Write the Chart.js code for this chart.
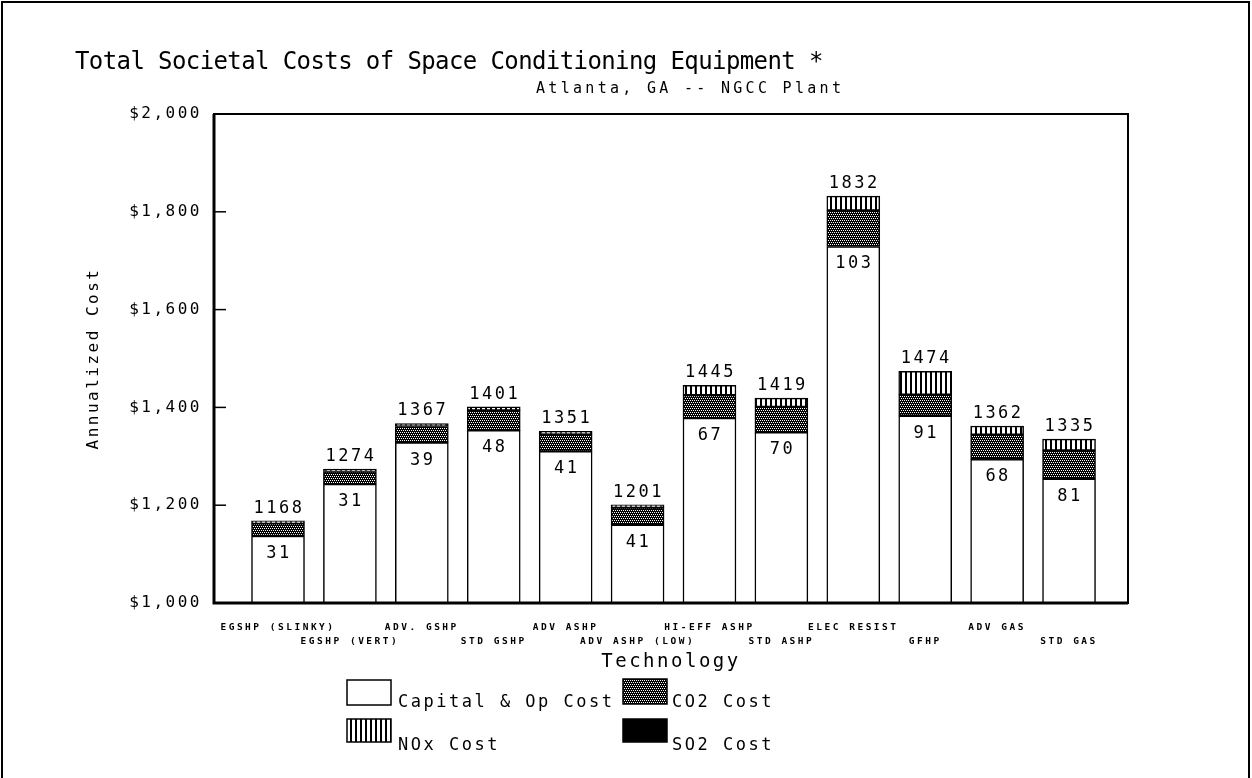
<!DOCTYPE html>
<html><head><meta charset="utf-8">
<script src="https://cdn.jsdelivr.net/npm/chart.js@4.4.1/dist/chart.umd.min.js"></script>
<style>html,body{margin:0;padding:0;background:#fff;}canvas{display:block;}</style>
</head><body>
<canvas id="c" width="1252" height="778"></canvas>
<script>
// ---- data ----
const categories = ['EGSHP (SLINKY)','EGSHP (VERT)','ADV. GSHP','STD GSHP','ADV ASHP','ADV ASHP (LOW)','HI-EFF ASHP','STD ASHP','ELEC RESIST','GFHP','ADV GAS','STD GAS'];
const capitalOpCost = [1137,1243,1328,1353,1310,1160,1378,1349,1729,1383,1294,1254];
const co2Cost       = [26,26,33,41,35,35,47,52,74,43,50,58];
const so2Cost       = [0,0,0,0,0,0,0,0,0,0,0,0];
const noxCost       = [5,5,6,7,6,6,20,18,29,48,18,23];
const totalLabels    = [1168,1274,1367,1401,1351,1201,1445,1419,1832,1474,1362,1335];
const emissionLabels = [31,31,39,48,41,41,67,70,103,91,68,81];
const yTickValues = [1000,1200,1400,1600,1800,2000];
const chartTitle = 'Total Societal Costs of Space Conditioning Equipment *';
const chartSubtitle = 'Atlanta, GA -- NGCC Plant';

const F = "'DejaVu Sans Mono', monospace";
const SP = '2.5px';

function makePattern(w, h, draw){
  const c = document.createElement('canvas'); c.width = w; c.height = h;
  const g = c.getContext('2d'); draw(g);
  return document.getElementById('c').getContext('2d').createPattern(c, 'repeat');
}
const co2Pattern = makePattern(4,4,g=>{
  g.fillStyle='#000'; g.fillRect(0,0,4,4);
  g.fillStyle='#fff'; g.fillRect(0,0,1,1); g.fillRect(2,0,1,1); g.fillRect(1,2,1,1); g.fillRect(3,2,1,1);
});
const noxPattern = makePattern(5,1,g=>{
  g.fillStyle='#fff'; g.fillRect(0,0,5,1);
  g.fillStyle='#000'; g.fillRect(0,0,2,1);
});

function setSpacing(chart){ try { chart.ctx.letterSpacing = SP; } catch(e){} }

const decor = {
  id:'decor',
  beforeUpdate: setSpacing,
  beforeLayout: setSpacing,
  beforeDraw(chart){
    const c = chart.ctx; c.save(); c.fillStyle='#fff'; c.fillRect(0,0,chart.width,chart.height); c.restore();
    setSpacing(chart);
  },
  afterDatasetsDraw(chart){
    const c = chart.ctx, a = chart.chartArea, y = chart.scales.y;
    const meta = chart.getDatasetMeta(0);
    c.save();
    c.letterSpacing = SP;
    c.fillStyle = '#000';
    c.font = '17px ' + F;
    c.textAlign = 'center';
    meta.data.forEach((bar, i) => {
      c.textBaseline = 'bottom';
      c.fillText(String(totalLabels[i]), bar.x + 1, y.getPixelForValue(totalLabels[i]) - 4);
      c.textBaseline = 'top';
      c.fillText(String(emissionLabels[i]), bar.x + 1, y.getPixelForValue(capitalOpCost[i]) + 9);
    });
    // plot frame
    c.strokeStyle = '#000';
    c.lineWidth = 2;
    c.strokeRect(a.left, a.top, a.right - a.left, a.bottom - a.top);
    c.lineWidth = 3;
    c.beginPath();
    c.moveTo(a.left, a.top); c.lineTo(a.left, a.bottom); c.lineTo(a.right, a.bottom);
    c.stroke();
    // inward y ticks
    c.lineWidth = 1.5;
    y.ticks.forEach(t => {
      const py = y.getPixelForValue(t.value);
      c.beginPath(); c.moveTo(a.left, py); c.lineTo(a.left + 12, py); c.stroke();
    });
    c.restore();
  },
  afterDraw(chart){
    const c = chart.ctx;
    c.save();
    c.fillStyle = '#000';
    c.textAlign = 'left';
    c.textBaseline = 'alphabetic';
    // title + subtitle
    c.letterSpacing = '-0.6px';
    c.font = '24px ' + F;
    c.fillText(chartTitle, 75, 69);
    c.letterSpacing = '3.3px';
    c.font = '15px ' + F;
    c.fillText(chartSubtitle, 536, 93);
    // legend (2 x 2 grid)
    const slots = [
      {label:'Capital & Op Cost', bx:347, by:680, bh:25, tx:398, ty:707},
      {label:'CO2 Cost',          bx:623, by:679, bh:25, tx:672, ty:707},
      {label:'NOx Cost',          bx:347, by:719, bh:23, tx:398, ty:750},
      {label:'SO2 Cost',          bx:623, by:719, bh:23, tx:672, ty:750}
    ];
    c.letterSpacing = SP;
    c.font = '17px ' + F;
    slots.forEach(s => {
      const ds = chart.data.datasets.find(d => d.label === s.label);
      c.fillStyle = ds.backgroundColor;
      c.fillRect(s.bx, s.by, 44, s.bh);
      c.strokeStyle = '#000'; c.lineWidth = 1.5;
      c.strokeRect(s.bx, s.by, 44, s.bh);
      c.fillStyle = '#000';
      c.fillText(ds.label, s.tx, s.ty);
    });
    // outer frame
    c.lineWidth = 2;
    c.strokeRect(2, 2, 1247, 800);
    c.restore();
  }
};

const toXY = arr => arr.map((v, i) => ({x: i, y: v}));

new Chart(document.getElementById('c'), {
  type: 'bar',
  data: {
    datasets: [
      {label:'Capital & Op Cost', data: toXY(capitalOpCost), backgroundColor:'#fff'},
      {label:'CO2 Cost', data: toXY(co2Cost), backgroundColor: co2Pattern},
      {label:'SO2 Cost', data: toXY(so2Cost), backgroundColor:'#000'},
      {label:'NOx Cost', data: toXY(noxCost), backgroundColor: noxPattern}
    ]
  },
  options: {
    responsive: false,
    animation: false,
    devicePixelRatio: 1,
    layout: {padding: {left: 84, right: 124, top: 114, bottom: 105}},
    datasets: {bar: {barThickness: 53, borderColor: '#000', borderWidth: 1.5, borderSkipped: false}},
    plugins: {legend: {display: false}, tooltip: {enabled: false}, title: {display: false}},
    scales: {
      x: {
        type: 'linear', stacked: true, offset: false, min: -0.89, max: 11.82,
        grid: {display: false, drawTicks: false, offset: false}, border: {display: false},
        afterBuildTicks: s => { s.ticks = categories.map((c, i) => ({value: i})); },
        afterFit: s => { s.height = 70; },
        ticks: {
          autoSkip: false, maxRotation: 0, minRotation: 0, padding: 17, color: '#000',
          font: {family: F, size: 9.5, weight: 'bold', lineHeight: 1.5},
          callback: v => { const i = Math.round(v); const t = categories[i] || ''; return i % 2 === 0 ? [t, ''] : ['', t]; }
        },
        title: {display: true, text: 'Technology', color: '#000', font: {family: F, size: 19}, padding: 0}
      },
      y: {
        stacked: true, min: yTickValues[0], max: yTickValues[yTickValues.length - 1],
        grid: {display: false, drawTicks: false}, border: {display: false},
        afterBuildTicks: s => { s.ticks = yTickValues.map(v => ({value: v})); },
        afterFit: s => { s.width = 130; },
        ticks: {padding: 12, color: '#000', font: {family: F, size: 16}, callback: v => '$' + Number(v).toLocaleString('en-US')},
        title: {display: true, text: 'Annualized Cost', color: '#000', font: {family: F, size: 16}, padding: 0}
      }
    }
  },
  plugins: [decor]
});
</script>
</body></html>
